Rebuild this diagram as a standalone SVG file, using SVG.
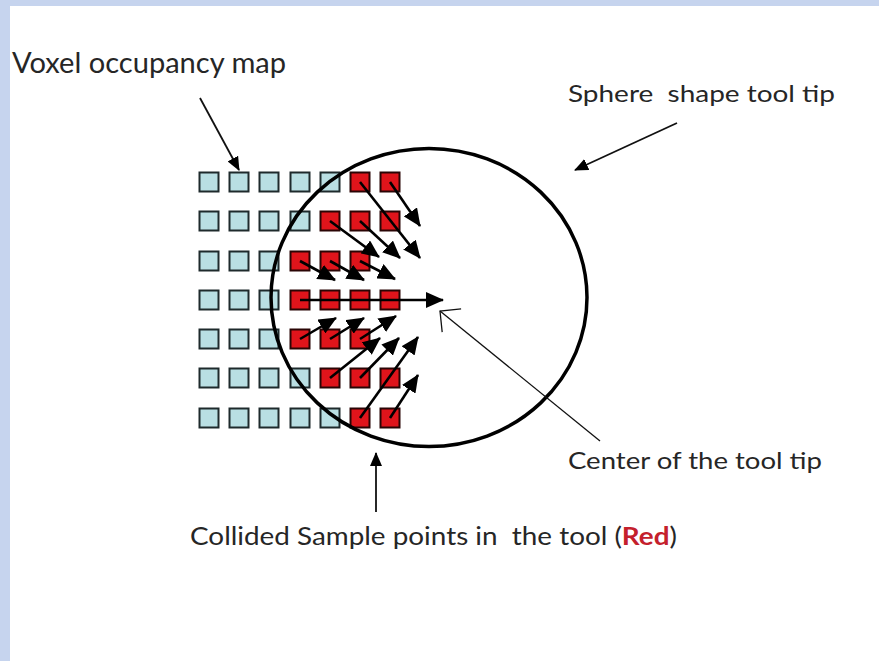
<svg xmlns="http://www.w3.org/2000/svg" width="879" height="661" viewBox="0 0 879 661">
<defs>
<style>
.txt{font-family:Lato,"Open Sans","Liberation Sans",sans-serif;fill:#262626;white-space:pre}
.blue{fill:#b9dfe3;stroke:#1e2a2c;stroke-width:2}
.red{fill:#e0141b;stroke:#2a0505;stroke-width:2}
.ca{stroke:#000;stroke-width:2.6;fill:none;marker-end:url(#hb)}
.ann{stroke:#111;stroke-width:1.8;fill:none;marker-end:url(#hs)}
</style>
<marker id="hb" markerUnits="userSpaceOnUse" markerWidth="18" markerHeight="16" refX="17" refY="8" orient="auto">
<path d="M0,0 L18,8 L0,16 Z" fill="#000"/>
</marker>
<marker id="hs" markerUnits="userSpaceOnUse" markerWidth="14" markerHeight="12" refX="13" refY="6" orient="auto">
<path d="M0,0 L14,6 L0,12 Z" fill="#000"/>
</marker>
<marker id="ho" markerUnits="userSpaceOnUse" markerWidth="18" markerHeight="32" refX="16" refY="16" orient="auto">
<path d="M1,1 L16,16 L1,31" fill="none" stroke="#111" stroke-width="1.3"/>
</marker>
</defs>
<rect x="0" y="0" width="879" height="661" fill="#ffffff"/>
<rect x="0" y="0" width="879" height="6" fill="#c6d4ee"/>
<rect x="0" y="0" width="10" height="661" fill="#c6d4ee"/>

<g id="voxel-grid">
<rect class="blue" x="199.5" y="172.5" width="19" height="19"/>
<rect class="blue" x="229.5" y="172.5" width="19" height="19"/>
<rect class="blue" x="259.5" y="172.5" width="19" height="19"/>
<rect class="blue" x="290.5" y="172.5" width="19" height="19"/>
<rect class="blue" x="320.5" y="172.5" width="19" height="19"/>
<rect class="red" x="350.5" y="172.5" width="19" height="19"/>
<rect class="red" x="380.5" y="172.5" width="19" height="19"/>
<rect class="blue" x="199.5" y="211.5" width="19" height="19"/>
<rect class="blue" x="229.5" y="211.5" width="19" height="19"/>
<rect class="blue" x="259.5" y="211.5" width="19" height="19"/>
<rect class="blue" x="290.5" y="211.5" width="19" height="19"/>
<rect class="red" x="320.5" y="211.5" width="19" height="19"/>
<rect class="red" x="350.5" y="211.5" width="19" height="19"/>
<rect class="red" x="380.5" y="211.5" width="19" height="19"/>
<rect class="blue" x="199.5" y="251.5" width="19" height="19"/>
<rect class="blue" x="229.5" y="251.5" width="19" height="19"/>
<rect class="blue" x="259.5" y="251.5" width="19" height="19"/>
<rect class="red" x="290.5" y="251.5" width="19" height="19"/>
<rect class="red" x="320.5" y="251.5" width="19" height="19"/>
<rect class="red" x="350.5" y="251.5" width="19" height="19"/>
<rect class="blue" x="199.5" y="290.5" width="19" height="19"/>
<rect class="blue" x="229.5" y="290.5" width="19" height="19"/>
<rect class="blue" x="259.5" y="290.5" width="19" height="19"/>
<rect class="red" x="290.5" y="290.5" width="19" height="19"/>
<rect class="red" x="320.5" y="290.5" width="19" height="19"/>
<rect class="red" x="350.5" y="290.5" width="19" height="19"/>
<rect class="red" x="380.5" y="290.5" width="19" height="19"/>
<rect class="blue" x="199.5" y="329.5" width="19" height="19"/>
<rect class="blue" x="229.5" y="329.5" width="19" height="19"/>
<rect class="blue" x="259.5" y="329.5" width="19" height="19"/>
<rect class="red" x="290.5" y="329.5" width="19" height="19"/>
<rect class="red" x="320.5" y="329.5" width="19" height="19"/>
<rect class="red" x="350.5" y="329.5" width="19" height="19"/>
<rect class="blue" x="199.5" y="368.5" width="19" height="19"/>
<rect class="blue" x="229.5" y="368.5" width="19" height="19"/>
<rect class="blue" x="259.5" y="368.5" width="19" height="19"/>
<rect class="blue" x="290.5" y="368.5" width="19" height="19"/>
<rect class="red" x="320.5" y="368.5" width="19" height="19"/>
<rect class="red" x="350.5" y="368.5" width="19" height="19"/>
<rect class="red" x="380.5" y="368.5" width="19" height="19"/>
<rect class="blue" x="199.5" y="408.5" width="19" height="19"/>
<rect class="blue" x="229.5" y="408.5" width="19" height="19"/>
<rect class="blue" x="259.5" y="408.5" width="19" height="19"/>
<rect class="blue" x="290.5" y="408.5" width="19" height="19"/>
<rect class="blue" x="320.5" y="408.5" width="19" height="19"/>
<rect class="red" x="350.5" y="408.5" width="19" height="19"/>
<rect class="red" x="380.5" y="408.5" width="19" height="19"/>
</g>

<g id="sphere-tool-tip">
<ellipse cx="429" cy="297.5" rx="158" ry="149" fill="none" stroke="#000" stroke-width="3.5"/>
</g>

<g id="connectors">
<path class="ca" d="M390,182 L420,226"/>
<path class="ca" d="M360,182 L420,258"/>
<path class="ca" d="M360,221 L400,258"/>
<path class="ca" d="M330,221 L379,257"/>
<path class="ca" d="M300,261 L335,280"/>
<path class="ca" d="M330,261 L364,280"/>
<path class="ca" d="M360,261 L395,279"/>
<path class="ca" d="M300,300 L443,300"/>
<path class="ca" d="M300,339 L336,318"/>
<path class="ca" d="M330,339 L364,318"/>
<path class="ca" d="M360,339 L396,316"/>
<path class="ca" d="M330,378 L380,338"/>
<path class="ca" d="M360,378 L399,338"/>
<path class="ca" d="M360,418 L418,337"/>
<path class="ca" d="M390,418 L418,375"/>
<path class="ann" d="M200,98 L239,170"/>
<path class="ann" d="M677,123 L575,170"/>
<path class="ann" d="M376,512 L376,453"/>
<path d="M600,441 L440,311" fill="none" stroke="#111" stroke-width="1.3" marker-end="url(#ho)"/>
</g>

<g id="labels">
<text class="txt" x="12" y="73" font-size="29" textLength="274" lengthAdjust="spacingAndGlyphs">Voxel occupancy map</text>
<text class="txt" x="568" y="102" font-size="24" textLength="267" lengthAdjust="spacingAndGlyphs">Sphere  shape tool tip</text>
<text class="txt" x="568" y="469" font-size="24" textLength="254" lengthAdjust="spacingAndGlyphs">Center of the tool tip</text>
<text class="txt" x="190" y="545" font-size="25" textLength="487" lengthAdjust="spacingAndGlyphs">Collided Sample points in  the tool (<tspan fill="#c4202c" font-weight="bold">Red</tspan>)</text>
</g>
</svg>
